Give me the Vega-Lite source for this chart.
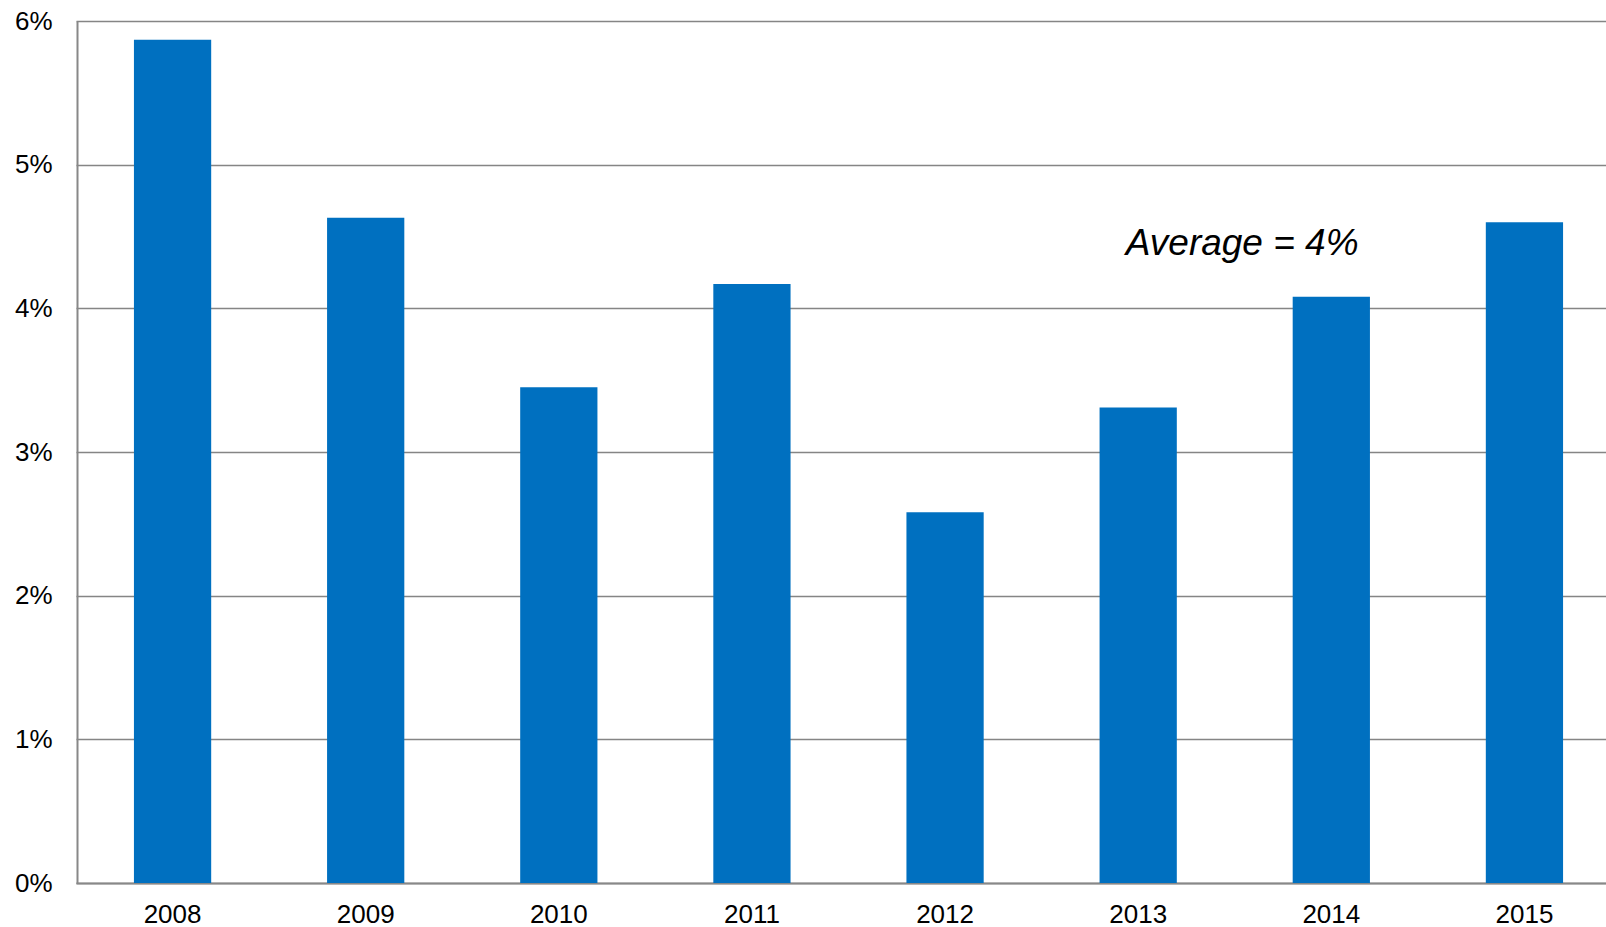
{
  "$schema": "https://vega.github.io/schema/vega-lite/v6.json",
  "width": 1529,
  "height": 862,
  "autosize": {"type": "none"},
  "padding": {"left": 77, "top": 21, "right": 0, "bottom": 44},
  "background": "white",
  "config": {
    "view": {"stroke": null},
    "font": "Liberation Sans"
  },
  "data": {
    "values": [
      {"year": "2008", "value": 0.0587},
      {"year": "2009", "value": 0.0463},
      {"year": "2010", "value": 0.0345},
      {"year": "2011", "value": 0.0417},
      {"year": "2012", "value": 0.0258},
      {"year": "2013", "value": 0.0331},
      {"year": "2014", "value": 0.0408},
      {"year": "2015", "value": 0.0460}
    ]
  },
  "layer": [
    {
      "mark": {"type": "bar", "color": "#0070C0"},
      "encoding": {
        "x": {
          "field": "year",
          "type": "nominal",
          "sort": null,
          "scale": {"range": [-1, 1544], "paddingInner": 0.6, "paddingOuter": 0.3},
          "axis": {
            "title": null,
            "labelAngle": 0,
            "labelFontSize": 26,
            "labelColor": "#000000",
            "labelFont": "Liberation Sans",
            "labelPadding": 18,
            "ticks": false,
            "domainColor": "#888888",
            "domainWidth": 2,
            "grid": false
          }
        },
        "y": {
          "field": "value",
          "type": "quantitative",
          "scale": {"domain": [0, 0.06], "nice": false},
          "axis": {
            "title": null,
            "format": ".0%",
            "values": [0, 0.01, 0.02, 0.03, 0.04, 0.05, 0.06],
            "labelFontSize": 26,
            "labelColor": "#000000",
            "labelFont": "Liberation Sans",
            "labelPadding": 25,
            "ticks": false,
            "domainColor": "#888888",
            "domainWidth": 2,
            "gridColor": "#858585",
            "gridWidth": 1.5,
            "gridOpacity": 1
          }
        }
      }
    },
    {
      "data": {"values": [{"year": "2013", "value": 0.0445, "label": "Average = 4%"}]},
      "mark": {
        "type": "text",
        "fontSize": 37,
        "fontStyle": "italic",
        "font": "Liberation Sans",
        "color": "#000000",
        "align": "center",
        "baseline": "middle",
        "dx": 104
      },
      "encoding": {
        "x": {"field": "year", "type": "nominal"},
        "y": {"field": "value", "type": "quantitative"},
        "text": {"field": "label"}
      }
    }
  ]
}
